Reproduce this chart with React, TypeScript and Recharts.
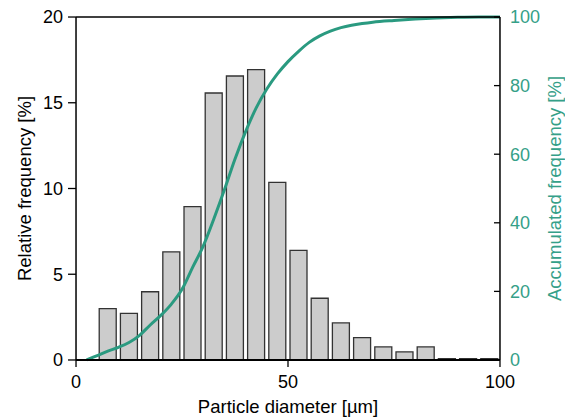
import React from 'react';
import { ComposedChart, Bar, Line, XAxis, YAxis, Label } from 'recharts';

// histogram bins (µm, centre of bin) and relative frequency in %
const binCenters = [7.5, 12.5, 17.5, 22.5, 27.5, 32.5, 37.5, 42.5, 47.5, 52.5, 57.5, 62.5, 67.5, 72.5, 77.5, 82.5, 87.5, 92.5, 97.5];
const relFreq = [3.0, 2.72, 3.98, 6.31, 8.94, 15.57, 16.56, 16.93, 10.36, 6.39, 3.6, 2.16, 1.3, 0.76, 0.47, 0.76, 0.08, 0.08, 0.08];

// accumulated frequency curve
const cumX = [2.5, 5, 7.5, 10, 12.5, 15, 17.5, 20, 22.5, 25, 27.5, 30, 32.5, 35, 37.5, 40, 42.5, 45, 47.5, 50, 52.5, 55, 57.5, 60, 62.5, 65, 67.5, 70, 75, 80, 85, 90, 95, 100];
const cumVal = [0, 1.3, 2.6, 3.7, 5.1, 7.2, 10.2, 13.0, 16.3, 20.6, 27.0, 33.2, 41.1, 49.6, 58.6, 66.6, 73.5, 79.0, 83.4, 87.0, 90.0, 92.6, 94.5, 95.9, 96.9, 97.6, 98.1, 98.5, 99.0, 99.4, 99.7, 99.9, 100, 100];

const xMajor = [0, 50, 100];
const xMinor = [25, 75];
const leftMajor = [0, 5, 10, 15, 20];
const leftMinor = [2.5, 7.5, 12.5, 17.5];
const rightMajor = [0, 20, 40, 60, 80, 100];
const rightMinor = [10, 30, 50, 70, 90];

const TEAL = '#2a9a80';
const TEXT_TEAL = '#35a088';
const FONT = '"Liberation Sans", Arial, sans-serif';

const binData = binCenters.map((d, i) => ({ d, freq: relFreq[i] }));
const cumData = cumX.map((d, i) => ({ d, acc: cumVal[i] }));

const axisLine = { stroke: '#000', strokeWidth: 1.5 };
const tickLine = { stroke: '#000', strokeWidth: 1.3 };
const THIN = 0.01;

export default function App() {
  return (
    <div style={{ position: 'absolute', left: 0, top: 0, fontFamily: FONT, background: '#fff' }}>
      <ComposedChart
        width={565}
        height={419}
        data={binData}
        margin={{ top: 17, right: 65, bottom: 59, left: 76 }}
      >
        <XAxis
          xAxisId="x"
          dataKey="d"
          type="number"
          domain={[0, 100]}
          ticks={xMajor}
          height={THIN}
          tickSize={7}
          tickMargin={8}
          axisLine={{ stroke: '#000', strokeWidth: 2 }}
          tickLine={tickLine}
          tick={{ fill: '#000', fontSize: 18, fontFamily: FONT }}
        >
          <Label
            value="Particle diameter [µm]"
            position="bottom"
            offset={40}
            style={{ fill: '#000', fontSize: 18.5, fontFamily: FONT }}
          />
        </XAxis>
        <XAxis
          xAxisId="xminor"
          type="number"
          domain={[0, 100]}
          ticks={xMinor}
          height={THIN}
          tickSize={4}
          axisLine={false}
          tickLine={tickLine}
          tick={false}
        />
        <XAxis
          xAxisId="top"
          orientation="top"
          type="number"
          domain={[0, 100]}
          ticks={[50]}
          height={THIN}
          tickSize={-7}
          axisLine={axisLine}
          tickLine={tickLine}
          tick={false}
        />
        <XAxis
          xAxisId="topminor"
          orientation="top"
          type="number"
          domain={[0, 100]}
          ticks={xMinor}
          height={THIN}
          tickSize={-5}
          axisLine={false}
          tickLine={tickLine}
          tick={false}
        />
        <XAxis xAxisId="xl" dataKey="d" type="number" domain={[0, 100]} hide />

        <YAxis
          yAxisId="l"
          type="number"
          domain={[0, 20]}
          ticks={leftMajor}
          width={THIN}
          tickSize={8}
          tickMargin={5}
          axisLine={axisLine}
          tickLine={tickLine}
          tick={{ fill: '#000', fontSize: 18, fontFamily: FONT }}
        >
          <Label
            value="Relative frequency [%]"
            position="left"
            angle={-90}
            offset={52}
            style={{ textAnchor: 'middle', fill: '#000', fontSize: 18.5, fontFamily: FONT }}
          />
        </YAxis>
        <YAxis
          yAxisId="lminor"
          type="number"
          domain={[0, 20]}
          ticks={leftMinor}
          width={THIN}
          tickSize={5}
          axisLine={false}
          tickLine={tickLine}
          tick={false}
        />
        <YAxis
          yAxisId="r"
          orientation="right"
          type="number"
          domain={[0, 100]}
          ticks={rightMajor}
          width={THIN}
          tickSize={-6}
          tickMargin={16}
          axisLine={axisLine}
          tickLine={tickLine}
          tick={{ fill: TEXT_TEAL, fontSize: 18, fontFamily: FONT }}
        >
          <Label
            value="Accumulated frequency [%]"
            position="right"
            angle={-90}
            offset={54}
            style={{ textAnchor: 'middle', fill: TEXT_TEAL, fontSize: 18.5, fontFamily: FONT }}
          />
        </YAxis>
        <YAxis
          yAxisId="rminor"
          orientation="right"
          type="number"
          domain={[0, 100]}
          ticks={rightMinor}
          width={THIN}
          tickSize={-4}
          axisLine={false}
          tickLine={tickLine}
          tick={false}
        />

        <Bar
          xAxisId="x"
          yAxisId="l"
          dataKey="freq"
          barSize={17}
          fill="#cccccc"
          stroke="#333333"
          strokeWidth={1.3}
          isAnimationActive={false}
        />
        <Line
          xAxisId="xl"
          yAxisId="r"
          data={cumData}
          dataKey="acc"
          type="monotone"
          stroke={TEAL}
          strokeWidth={3}
          dot={false}
          activeDot={false}
          isAnimationActive={false}
        />
      </ComposedChart>
    </div>
  );
}
